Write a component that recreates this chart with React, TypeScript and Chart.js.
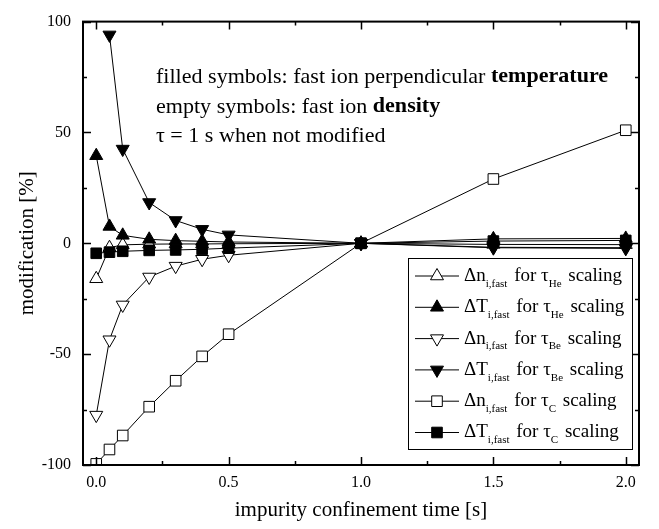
import React, { useEffect, useRef } from 'react';
import { Chart, registerables } from 'chart.js';

Chart.register(...registerables);

// ---- data ----
const X = [0, 0.05, 0.1, 0.2, 0.3, 0.4, 0.5, 1.0, 1.5, 2.0];
const X_T_BE = [0.05, 0.1, 0.2, 0.3, 0.4, 0.5, 1.0, 1.5, 2.0];
const dnHe = [-16, -2, -0.7, -0.4, -0.3, -0.3, -0.2, 0, -0.5, -0.6];
const dTHe = [39.5, 7.6, 3.6, 1.8, 1.2, 0.9, 0.6, 0, 2.0, 2.2];
const dnBe = [-77.5, -43.5, -27.8, -15.2, -10.3, -7.2, -5.4, 0, -2.0, -2.3];
const dTBe = [94, 42.5, 18.4, 10.3, 6.3, 3.8, 0, -1.8, -2.0];
const dnC = [-99.5, -93, -86.7, -73.7, -62, -51, -41, 0, 29, 51];
const dTC = [-4.5, -4, -3.6, -3.2, -3, -2.7, -2.2, 0, 1.0, 1.3];

const X_TICKS = [0, 0.5, 1.0, 1.5, 2.0];
const X_MINOR = [0.25, 0.75, 1.25, 1.75];
const Y_TICKS = [-100, -50, 0, 50, 100];
const Y_MINOR = [-75, -25, 25, 75];

const X_TITLE = 'impurity confinement time [s]';
const Y_TITLE = 'modification [%]';

const SERIF = '"Liberation Serif", "DejaVu Serif", serif';

type Marker = { style: 'triangle' | 'rect'; down: boolean; filled: boolean };

const LEGEND_ROWS: { main: string; target: string; marker: Marker }[] = [
  { main: 'Δn', target: 'He', marker: { style: 'triangle', down: false, filled: false } },
  { main: 'ΔT', target: 'He', marker: { style: 'triangle', down: false, filled: true } },
  { main: 'Δn', target: 'Be', marker: { style: 'triangle', down: true, filled: false } },
  { main: 'ΔT', target: 'Be', marker: { style: 'triangle', down: true, filled: true } },
  { main: 'Δn', target: 'C', marker: { style: 'rect', down: false, filled: false } },
  { main: 'ΔT', target: 'C', marker: { style: 'rect', down: false, filled: true } },
];

function makeDs(label: string, xs: number[], ys: number[], m: Marker, idx: number) {
  return {
    label,
    order: 10 - idx,
    data: xs.map((x, i) => ({ x, y: ys[i] })),
    borderColor: '#000',
    borderWidth: 1,
    showLine: true,
    tension: 0,
    fill: false,
    pointStyle: m.style,
    pointRotation: m.down ? 180 : 0,
    pointRadius: 7.5,
    pointHoverRadius: 7.5,
    pointBackgroundColor: m.filled ? '#000' : '#fff',
    pointBorderColor: '#000',
    pointBorderWidth: 1,
  };
}

function drawMarker(ctx: CanvasRenderingContext2D, x: number, y: number, m: Marker) {
  ctx.save();
  ctx.beginPath();
  if (m.style === 'rect') {
    const s = 7.5 * Math.SQRT1_2;
    ctx.rect(x - s, y - s, 2 * s, 2 * s);
  } else {
    const r = 7.5;
    const sgn = m.down ? -1 : 1;
    ctx.moveTo(x, y - sgn * r);
    ctx.lineTo(x + r * Math.sin((2 * Math.PI) / 3), y + sgn * r * 0.5);
    ctx.lineTo(x - r * Math.sin((2 * Math.PI) / 3), y + sgn * r * 0.5);
    ctx.closePath();
  }
  ctx.fillStyle = m.filled ? '#000' : '#fff';
  ctx.fill();
  ctx.strokeStyle = '#000';
  ctx.lineWidth = 1;
  ctx.stroke();
  ctx.restore();
}

const framePlugin = {
  id: 'frameTicks',
  afterDatasetsDraw(chart: any) {
    const { ctx, chartArea: a, scales } = chart;
    const xs = scales.x;
    const ys = scales.y;
    ctx.save();
    ctx.strokeStyle = '#000';
    ctx.lineWidth = 1.5;
    const tick = (vals: number[], len: number, horiz: boolean) => {
      vals.forEach((v) => {
        if (horiz) {
          const px = Math.round(xs.getPixelForValue(v)) + 0.5;
          ctx.beginPath();
          ctx.moveTo(px, a.bottom);
          ctx.lineTo(px, a.bottom - len);
          ctx.moveTo(px, a.top);
          ctx.lineTo(px, a.top + len);
          ctx.stroke();
        } else {
          const py = Math.round(ys.getPixelForValue(v)) + 0.5;
          ctx.beginPath();
          ctx.moveTo(a.left, py);
          ctx.lineTo(a.left + len, py);
          ctx.moveTo(a.right, py);
          ctx.lineTo(a.right - len, py);
          ctx.stroke();
        }
      });
    };
    tick(X_TICKS, 8, true);
    tick(X_MINOR, 4, true);
    tick(Y_TICKS, 8, false);
    tick(Y_MINOR, 4, false);
    ctx.lineWidth = 2;
    ctx.strokeRect(a.left, a.top, a.right - a.left, a.bottom - a.top);
    ctx.restore();
  },
  afterDraw(chart: any) {
    const { ctx } = chart;
    ctx.save();
    ctx.fillStyle = '#000';
    ctx.textBaseline = 'middle';
    ctx.textAlign = 'left';
    // annotation (slightly widened to mimic Computer Modern proportions)
    const annX = 156;
    const stretch = 1.05;
    const regular = `21px ${SERIF}`;
    const bold = `bold 21px ${SERIF}`;
    const line = (y: number, parts: [string, boolean][]) => {
      let x = annX;
      parts.forEach(([t, b]) => {
        ctx.font = b ? bold : regular;
        ctx.save();
        ctx.translate(x, y);
        ctx.scale(stretch, 1);
        ctx.fillText(t, 0, 0);
        ctx.restore();
        x += ctx.measureText(t).width * stretch;
      });
    };
    line(77, [['filled symbols: fast ion perpendicular ', false], ['temperature', true]]);
    line(107, [['empty symbols: fast ion ', false], ['density', true]]);
    line(136, [['τ = 1 s when not modified', false]]);

    // legend
    const bx = 408, by = 258, bw = 224, bh = 191;
    ctx.fillStyle = '#fff';
    ctx.fillRect(bx, by, bw, bh);
    ctx.strokeStyle = '#000';
    ctx.lineWidth = 1;
    ctx.strokeRect(bx + 0.5, by + 0.5, bw, bh);
    const main = `19px ${SERIF}`;
    const sub = `11px ${SERIF}`;
    LEGEND_ROWS.forEach((r, i) => {
      const cy = by + 18 + i * 31.3;
      ctx.beginPath();
      ctx.moveTo(415, cy);
      ctx.lineTo(459, cy);
      ctx.strokeStyle = '#000';
      ctx.lineWidth = 1;
      ctx.stroke();
      drawMarker(ctx, 437, cy, r.marker);
      ctx.fillStyle = '#000';
      let x = 464;
      const put = (t: string, isSub: boolean, gap = 0) => {
        ctx.font = isSub ? sub : main;
        ctx.fillText(t, x, isSub ? cy + 8 : cy);
        x += ctx.measureText(t).width + gap;
      };
      put(r.main, false);
      put('i,fast', true, 2);
      put(' for τ', false);
      put(r.target, true, 2);
      put(' scaling', false);
    });
    ctx.restore();
  },
};

export default function App() {
  const ref = useRef<HTMLCanvasElement | null>(null);
  useEffect(() => {
    if (!ref.current) return;
    Chart.defaults.color = '#000';
    const chart = new Chart(ref.current, {
      type: 'scatter',
      data: {
        datasets: [
          makeDs('dn He', X, dnHe, LEGEND_ROWS[0].marker, 0),
          makeDs('dT He', X, dTHe, LEGEND_ROWS[1].marker, 1),
          makeDs('dn Be', X, dnBe, LEGEND_ROWS[2].marker, 2),
          makeDs('dT Be', X_T_BE, dTBe, LEGEND_ROWS[3].marker, 3),
          makeDs('dn C', X, dnC, LEGEND_ROWS[4].marker, 4),
          makeDs('dT C', X, dTC, LEGEND_ROWS[5].marker, 5),
        ] as any,
      },
      options: {
        animation: false,
        responsive: false,
        maintainAspectRatio: false,
        layout: { padding: { top: 16, right: 20, left: 0, bottom: 0 } },
        plugins: { legend: { display: false }, tooltip: { enabled: false } },
        scales: {
          x: {
            type: 'linear',
            min: -0.05,
            max: 2.05,
            grid: { display: false, drawTicks: false },
            border: { display: false },
            afterBuildTicks: (s: any) => {
              s.ticks = X_TICKS.map((v) => ({ value: v }));
            },
            afterFit: (s: any) => {
              s.height = 64;
            },
            ticks: {
              padding: 8,
              maxRotation: 0,
              font: { family: SERIF, size: 16 },
              callback: (v: any) => Number(v).toFixed(1),
            },
            title: {
              display: true,
              text: X_TITLE,
              font: { family: SERIF, size: 21 },
              padding: { top: 0, bottom: 6 },
            },
          },
          y: {
            type: 'linear',
            min: -100,
            max: 100,
            grid: { display: false, drawTicks: false },
            border: { display: false },
            afterBuildTicks: (s: any) => {
              s.ticks = Y_TICKS.map((v) => ({ value: v }));
            },
            afterFit: (s: any) => {
              s.width = 83;
            },
            ticks: {
              padding: 12,
              font: { family: SERIF, size: 16 },
              callback: (v: any) => String(v),
            },
            title: {
              display: true,
              text: Y_TITLE,
              font: { family: SERIF, size: 21 },
              padding: { top: 15, bottom: 0 },
            },
          },
        },
      },
      plugins: [framePlugin],
    });
    return () => chart.destroy();
  }, []);
  return (
    <div style={{ position: 'fixed', left: 0, top: 0, width: 659, height: 529, background: '#fff' }}>
      <canvas ref={ref} width={659} height={529} style={{ width: 659, height: 529, display: 'block' }} />
    </div>
  );
}
